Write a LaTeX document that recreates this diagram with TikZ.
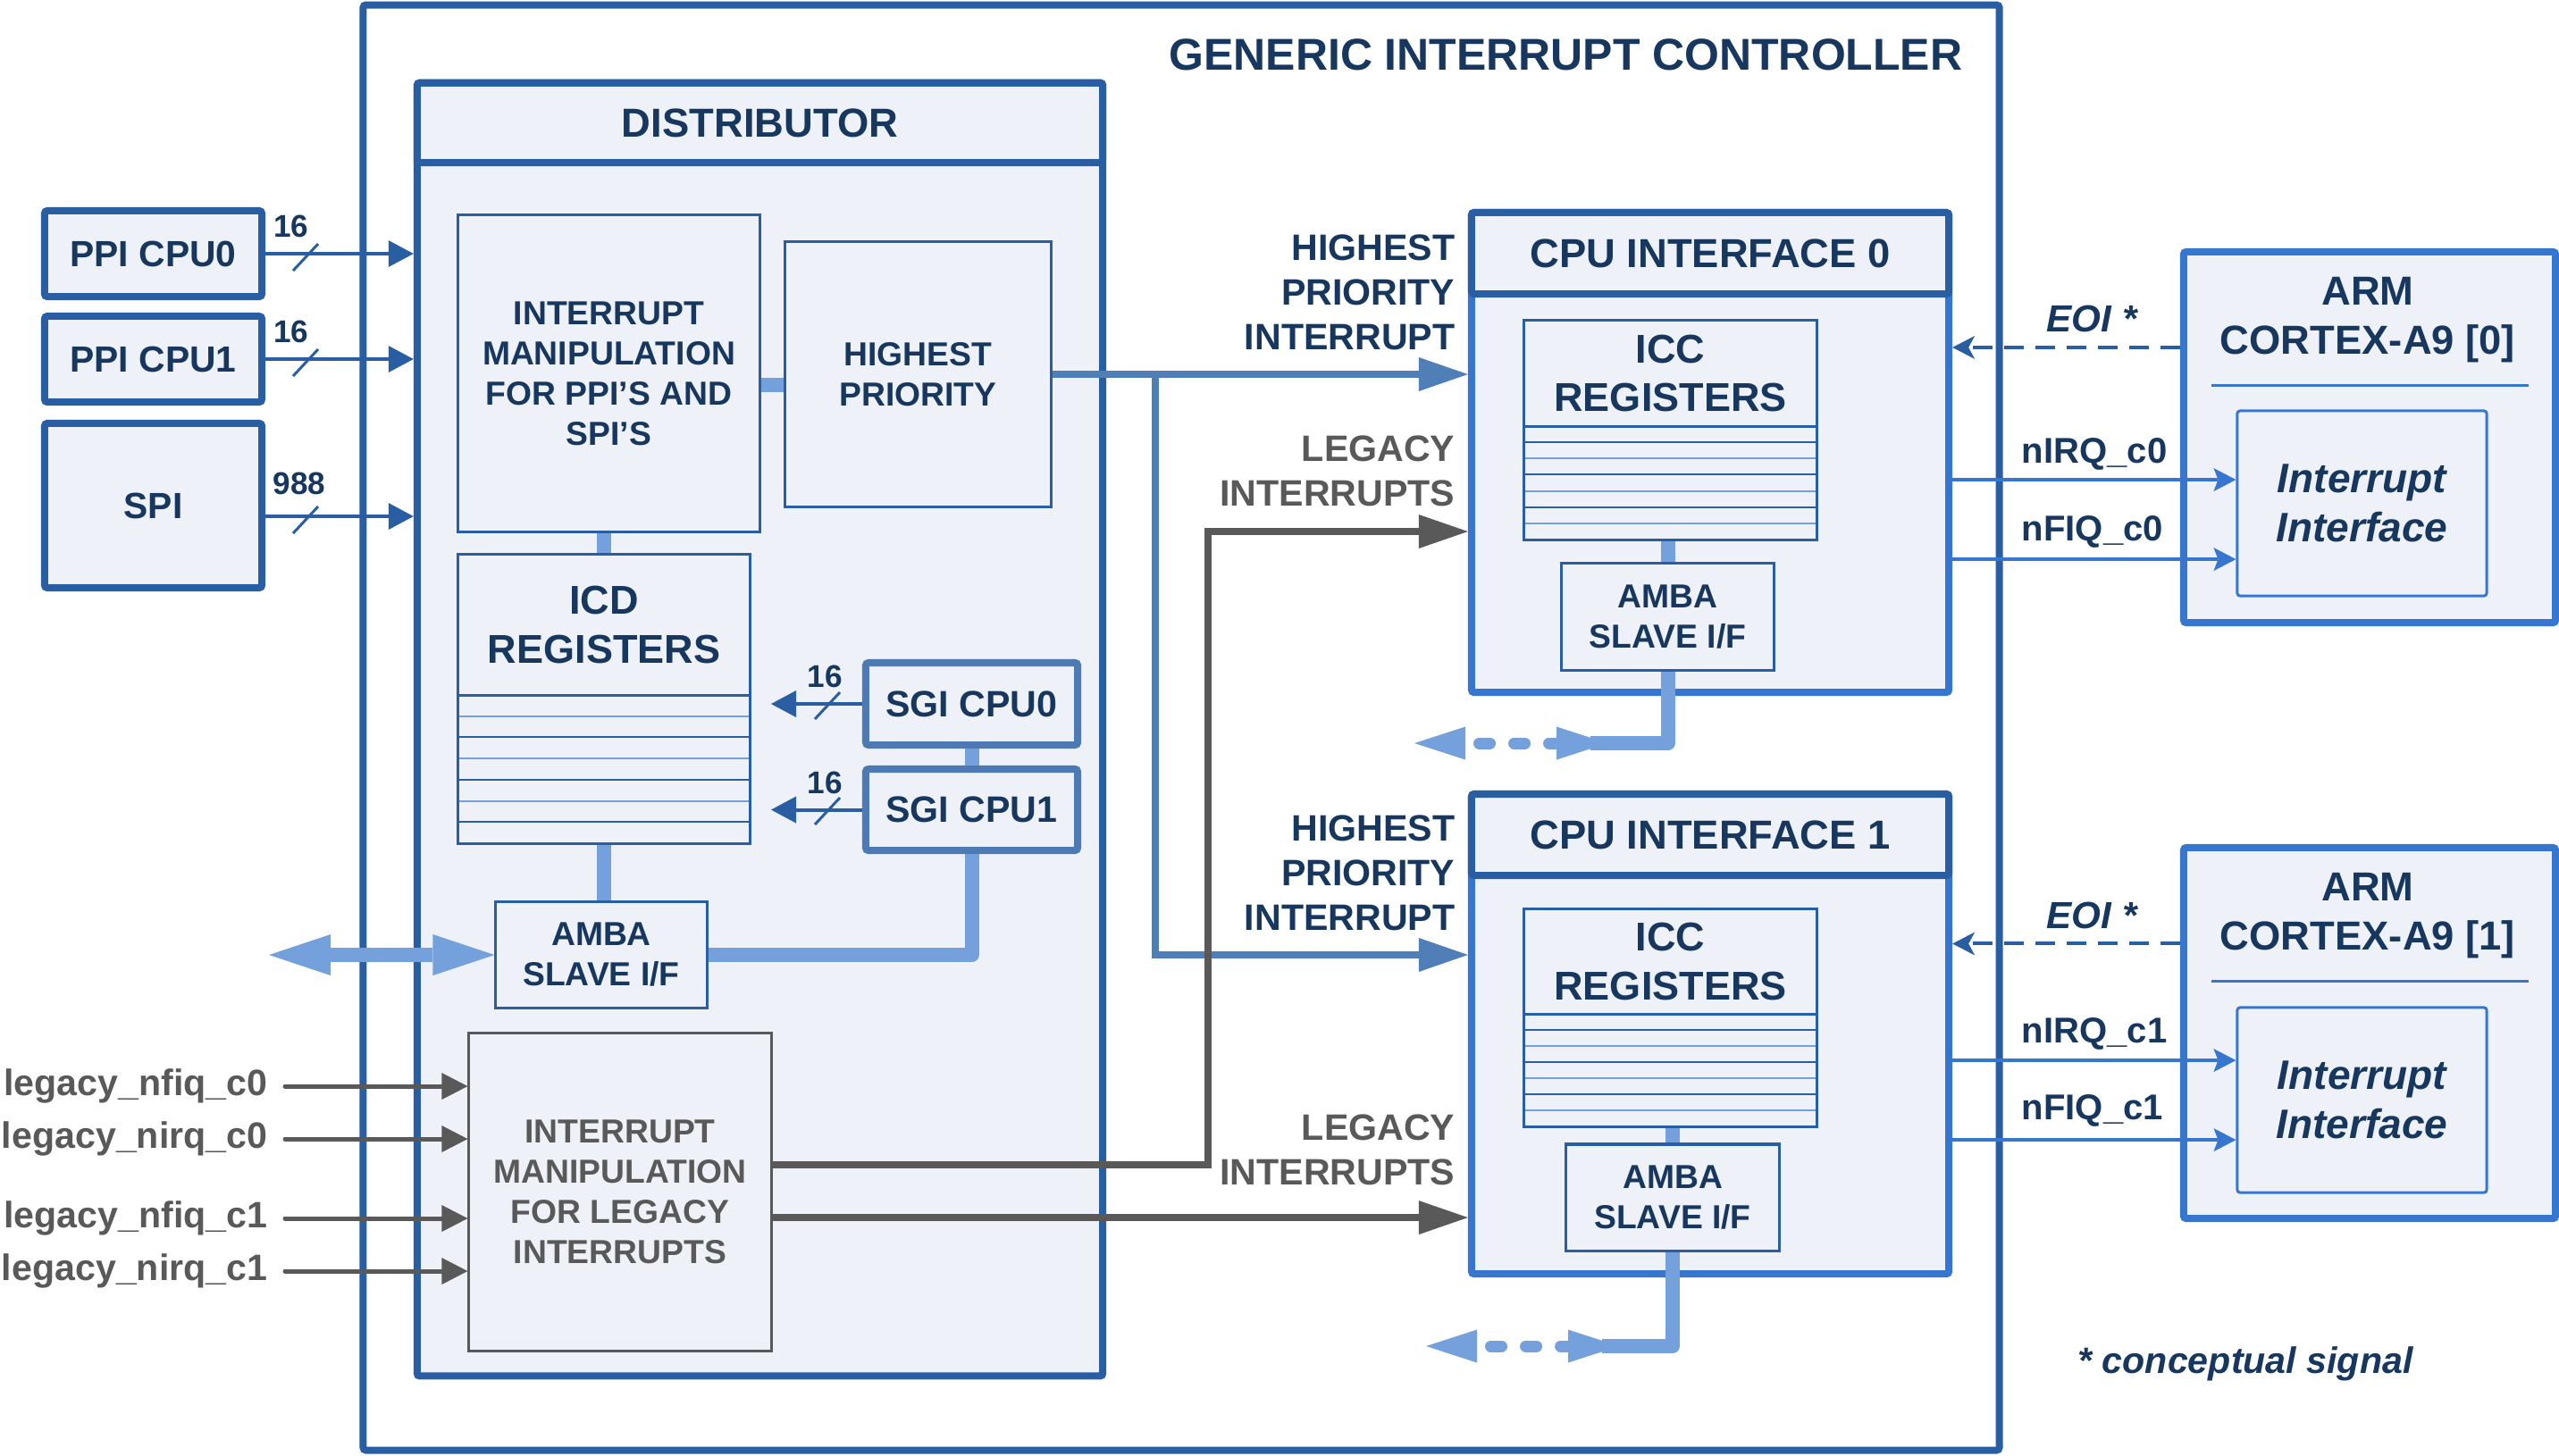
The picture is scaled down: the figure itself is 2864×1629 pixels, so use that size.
\documentclass[tikz,border=0pt]{standalone}
\usepackage{fontspec}
\setmainfont{Liberation Sans}
\usetikzlibrary{arrows.meta}
\definecolor{gicblue}{RGB}{42,94,163}
\definecolor{brblue}{RGB}{55,118,206}
\definecolor{lfill}{RGB}{238,242,248}
\definecolor{connblue}{RGB}{116,160,220}
\definecolor{steel}{RGB}{80,126,182}
\definecolor{sgiblue}{RGB}{77,122,178}
\definecolor{navy}{RGB}{23,55,94}
\definecolor{dgray}{RGB}{89,89,89}
\newcommand{\myfs}[2]{\fontsize{#1}{#2}\selectfont}
\newcommand{\fdist}{\myfs{10.6pt}{12.8pt}\bfseries}
\newcommand{\freg}{\myfs{12.8pt}{15.6pt}\bfseries}
\newcommand{\flbl}{\myfs{11.7pt}{14.2pt}\bfseries}
\begin{document}
\begin{tikzpicture}[x=0.01cm,y=-0.01cm,
  thickbox/.style={draw=gicblue, line width=0.08cm, fill=lfill, rounded corners=0.03cm, inner sep=0pt, text=navy, align=center},
  thinbox/.style={draw=gicblue, line width=0.03cm, fill=lfill, inner sep=0pt, text=navy, align=center},
  sgibox/.style={thickbox, draw=sgiblue, font=\myfs{11.7pt}{14pt}\bfseries},
  cpubody/.style={draw=brblue, line width=0.08cm, fill=lfill, rounded corners=0.03cm, inner sep=0pt},
  armbox/.style={draw=brblue, line width=0.08cm, fill=lfill, rounded corners=0.03cm, inner sep=0pt},
  sigarr/.style={draw=gicblue, line width=0.04cm, -{Triangle[length=0.28cm, width=0.30cm, line width=0pt]}},
  slash/.style={draw=gicblue, line width=0.03cm},
  cnt/.style={text=navy, font=\myfs{10pt}{12pt}\bfseries, inner sep=0pt},
  conn/.style={draw=connblue, line width=0.16cm},
  strip1/.style={draw=gicblue, line width=0.02cm},
  strip2/.style={draw=connblue, line width=0.02cm},
  legarr/.style={draw=dgray, line width=0.05cm, line cap=round, -{Triangle[length=0.29cm, width=0.30cm, line width=0pt]}},
  grayarr/.style={draw=dgray, line width=0.08cm, -{Triangle[length=0.55cm, width=0.38cm, line width=0pt]}},
  hparr/.style={draw=steel, line width=0.08cm, -{Triangle[length=0.55cm, width=0.38cm, line width=0pt]}},
  eoiarr/.style={draw=gicblue, line width=0.04cm, dash pattern=on 0.22cm off 0.13cm, -{Stealth[length=0.25cm, width=0.26cm, inset=0.07cm, line width=0pt]}},
  irqarr/.style={draw=brblue, line width=0.035cm, -{Stealth[length=0.25cm, width=0.26cm, inset=0.05cm, line width=0pt]}},
  leglbl/.style={anchor=east, text=dgray, font=\flbl, inner sep=0pt},
  sidelbl/.style={anchor=east, align=right, font=\flbl, inner sep=0pt},
  sigl/.style={anchor=west, text=navy, font=\myfs{11.4pt}{13.7pt}\bfseries, inner sep=0pt},
  busdots/.style={draw=connblue, line width=0.13cm, line cap=round, dash pattern=on 0.12cm off 0.27cm}
]
\useasboundingbox (0,0) rectangle (2864,1629);

% ---------- GIC frame ----------
\node[draw=gicblue, line width=0.08cm, fill=white, rounded corners=0.03cm, minimum width=18.30cm, minimum height=16.17cm, inner sep=0pt] (gic) at (1322,814.5) {};
\node[anchor=east, text=navy, font=\myfs{14.2pt}{17pt}\bfseries, inner sep=0pt] (gictitle) at (2197,61) {GENERIC INTERRUPT CONTROLLER};

% ---------- Distributor ----------
\node[thickbox, minimum width=7.67cm, minimum height=14.47cm] (dist) at (850.5,816.5) {};
\node[thickbox, minimum width=7.67cm, minimum height=0.89cm, font=\myfs{12.9pt}{15pt}\bfseries] (disthead) at (850.5,137.5) {DISTRIBUTOR};

% ---------- PPI / SPI sources ----------
\node[thickbox, minimum width=2.43cm, minimum height=0.96cm, font=\myfs{11.6pt}{14pt}\bfseries] (ppi0) at (171.5,284) {PPI CPU0};
\node[thickbox, minimum width=2.43cm, minimum height=0.96cm, font=\myfs{11.6pt}{14pt}\bfseries] (ppi1) at (171.5,402) {PPI CPU1};
\node[thickbox, minimum width=2.43cm, minimum height=1.84cm, font=\myfs{11.6pt}{14pt}\bfseries] (spi) at (171.5,566) {SPI};

% ---------- Distributor inner blocks ----------
\node[thinbox, minimum width=3.37cm, minimum height=3.54cm, font=\fdist] (manip) at (681.5,418) {INTERRUPT\\MANIPULATION\\FOR PPI’S AND\\SPI’S};
\node[thinbox, minimum width=2.97cm, minimum height=2.96cm, font=\fdist] (hp) at (1027.5,419) {HIGHEST\\PRIORITY};
\node[thinbox, minimum width=3.26cm, minimum height=3.23cm] (icd) at (676,782.5) {};
\node[thinbox, minimum width=3.26cm, minimum height=1.57cm, font=\freg] (icdh) at (676,699.5) {ICD\\REGISTERS};
\foreach \k in {1,3,5} { \draw[strip2] (514,{778+23.7*\k}) -- (838,{778+23.7*\k}); }
\foreach \k in {2,4,6} { \draw[strip1] (514,{778+23.7*\k}) -- (838,{778+23.7*\k}); }
\node[sgibox, minimum width=2.37cm, minimum height=0.92cm] (sgi0) at (1087.5,788) {SGI CPU0};
\node[sgibox, minimum width=2.37cm, minimum height=0.91cm] (sgi1) at (1087.5,906.5) {SGI CPU1};
\node[thinbox, minimum width=2.36cm, minimum height=1.18cm, font=\fdist] (ambad) at (673,1069) {AMBA\\SLAVE I/F};
\node[thinbox, draw=dgray, text=dgray, minimum width=3.38cm, minimum height=3.55cm, font=\fdist] (leg) at (694,1334.5) {INTERRUPT\\MANIPULATION\\FOR LEGACY\\INTERRUPTS};

% ---------- CPU interface 0 ----------
\node[cpubody, minimum width=5.34cm, minimum height=5.37cm] (cpu0) at (1914,506.5) {};
\node[thickbox, minimum width=5.34cm, minimum height=0.91cm, font=\myfs{12.9pt}{15pt}\bfseries] (cpu0h) at (1914,283.5) {CPU INTERFACE 0};
\node[thinbox, minimum width=3.27cm, minimum height=2.45cm] (icc0) at (1869.5,481.5) {};
\node[thinbox, minimum width=3.27cm, minimum height=1.18cm, font=\freg] (icc0h) at (1869.5,418) {ICC\\REGISTERS};
\foreach \k in {1,3,5} { \draw[strip1] (1707,{477+18.14*\k}) -- (2032,{477+18.14*\k}); }
\foreach \k in {2,4,6} { \draw[strip2] (1707,{477+18.14*\k}) -- (2032,{477+18.14*\k}); }
\node[thinbox, minimum width=2.37cm, minimum height=1.19cm, font=\fdist] (amba0) at (1866.5,690.5) {AMBA\\SLAVE I/F};

% ---------- CPU interface 1 ----------
\node[cpubody, minimum width=5.34cm, minimum height=5.37cm] (cpu1) at (1914,1157.5) {};
\node[thickbox, minimum width=5.34cm, minimum height=0.91cm, font=\myfs{12.9pt}{15pt}\bfseries] (cpu1h) at (1914,934.5) {CPU INTERFACE 1};
\node[thinbox, minimum width=3.27cm, minimum height=2.43cm] (icc1) at (1869.5,1139.5) {};
\node[thinbox, minimum width=3.27cm, minimum height=1.17cm, font=\freg] (icc1h) at (1869.5,1076.5) {ICC\\REGISTERS};
\foreach \k in {1,3,5} { \draw[strip1] (1707,{1135+18*\k}) -- (2032,{1135+18*\k}); }
\foreach \k in {2,4,6} { \draw[strip2] (1707,{1135+18*\k}) -- (2032,{1135+18*\k}); }
\node[thinbox, minimum width=2.38cm, minimum height=1.19cm, font=\fdist] (amba1) at (1872,1340.5) {AMBA\\SLAVE I/F};

% ---------- ARM cores ----------
\node[armbox, minimum width=4.16cm, minimum height=4.15cm] (arm0) at (2652,489.5) {};
\node[text=navy, font=\myfs{12.9pt}{15.6pt}\bfseries, align=center, inner sep=0pt] (arm0t) at (2650,358) {ARM\\CORTEX-A9 [0]};
\draw[brblue, line width=0.03cm] (2475,431) -- (2830,431);
\node[armbox, line width=0.03cm, minimum width=2.79cm, minimum height=2.07cm, text=navy, align=center, font=\myfs{13.1pt}{15.8pt}\bfseries\itshape] (if0) at (2643.5,563.5) {Interrupt\\Interface};

\node[armbox, minimum width=4.16cm, minimum height=4.15cm] (arm1) at (2652,1156.5) {};
\node[text=navy, font=\myfs{12.9pt}{15.6pt}\bfseries, align=center, inner sep=0pt] (arm1t) at (2650,1025) {ARM\\CORTEX-A9 [1]};
\draw[brblue, line width=0.03cm] (2475,1098) -- (2830,1098);
\node[armbox, line width=0.03cm, minimum width=2.79cm, minimum height=2.07cm, text=navy, align=center, font=\myfs{13.1pt}{15.8pt}\bfseries\itshape] (if1) at (2643.5,1231.5) {Interrupt\\Interface};

% ---------- PPI/SPI inputs ----------
\draw[sigarr] (ppi0.east) -- (ppi0.east -| dist.west);
\draw[sigarr] (ppi1.east) -- (ppi1.east -| dist.west);
\draw[sigarr] ([yshift=-0.12cm]spi.east) -- ([yshift=-0.12cm]spi.east -| dist.west);
\draw[slash] (328,303) -- (356,273);
\draw[slash] (328,421) -- (356,391);
\draw[slash] (328,597) -- (356,567);
\node[cnt] (n16a) at (326,253) {16};
\node[cnt] (n16b) at (326,371) {16};
\node[cnt] (n988) at (335,541) {988};

% ---------- distributor internal connections ----------
\draw[conn] ([yshift=-0.13cm]manip.east) -- ([yshift=-0.13cm]manip.east -| hp.west);
\draw[conn] (icd.north) -- (icd.north |- manip.south);
\draw[conn] (sgi0.south) -- (sgi1.north);
\draw[conn] (icd.south) -- (icd.south |- ambad.north);
\draw[conn, line join=round] (sgi1.south) |- (ambad.east);
\coordinate (busl) at (301,1069);
\draw[conn, {Triangle[length=0.69cm, width=0.46cm, line width=0pt]}-{Triangle[length=0.69cm, width=0.46cm, line width=0pt]}] (busl) -- (ambad.west);

\coordinate (sgi0tip) at (863,788);
\coordinate (sgi1tip) at (863,906.5);
\draw[sigarr] (sgi0.west) -- (sgi0tip);
\draw[sigarr] (sgi1.west) -- (sgi1tip);
\draw[slash] (912,805) -- (940,775);
\draw[slash] (912,923) -- (940,893);
\node[cnt] (n16c) at (923,757) {16};
\node[cnt] (n16d) at (923,876) {16};

% ---------- legacy inputs ----------
\node[leglbl] (lnf0) at (300,1216) {legacy\_nfiq\_c0};
\node[leglbl] (lni0) at (300,1275) {legacy\_nirq\_c0};
\node[leglbl] (lnf1) at (300,1364) {legacy\_nfiq\_c1};
\node[leglbl] (lni1) at (300,1423) {legacy\_nirq\_c1};
\draw[legarr] ([xshift=0.19cm]lnf0.east) -- (lnf0.east -| leg.west);
\draw[legarr] ([xshift=0.19cm]lni0.east) -- (lni0.east -| leg.west);
\draw[legarr] ([xshift=0.19cm]lnf1.east) -- (lnf1.east -| leg.west);
\draw[legarr] ([xshift=0.19cm]lni1.east) -- (lni1.east -| leg.west);

% ---------- highest priority outputs ----------
\draw[hparr] (hp.east) -- (hp.east -| cpu0.west);
\coordinate (br) at (1293,419);
\draw[hparr] (br) |- ([yshift=0.885cm]cpu1.west);

% ---------- legacy outputs ----------
\coordinate (lg0) at (1352,595);
\draw[grayarr] ([yshift=0.305cm]leg.east) -| (lg0) -- (lg0 -| cpu0.west);
\draw[grayarr] ([yshift=-0.285cm]leg.east) -- ([yshift=-0.285cm]leg.east -| cpu1.west);

% ---------- side labels ----------
\node[sidelbl, text=navy] (hpl0) at (1629,327) {HIGHEST\\PRIORITY\\INTERRUPT};
\node[sidelbl, text=dgray] (lgl0) at (1629,527.5) {LEGACY\\INTERRUPTS};
\node[sidelbl, text=navy] (hpl1) at (1629,977) {HIGHEST\\PRIORITY\\INTERRUPT};
\node[sidelbl, text=dgray] (lgl1) at (1629,1287.5) {LEGACY\\INTERRUPTS};

% ---------- CPU interface internal + bus stubs ----------
\draw[conn] (amba0.north) -- (amba0.north |- icc0.south);
\coordinate (bus0) at (1780,832);
\draw[conn, line join=round] (amba0.south) |- (bus0);
\fill[connblue] (1583,832) -- (1640,813.5) -- (1640,850.5) -- cycle;
\fill[connblue] (1799,832) -- (1742,813.5) -- (1742,850.5) -- cycle;
\draw[busdots] (1655.5,832) -- (1745,832);

\draw[conn] (amba1.north) -- (amba1.north |- icc1.south);
\coordinate (bus1) at (1793,1507);
\draw[conn, line join=round] (amba1.south) |- (bus1);
\fill[connblue] (1596,1507) -- (1653,1488.5) -- (1653,1525.5) -- cycle;
\fill[connblue] (1812,1507) -- (1755,1488.5) -- (1755,1525.5) -- cycle;
\draw[busdots] (1668.5,1507) -- (1758,1507);

% ---------- CPU <-> core signals ----------
\draw[eoiarr] ([yshift=1.005cm]arm0.west) -- ([yshift=1.005cm]arm0.west -| cpu0.east);
\draw[eoiarr] ([yshift=1.0cm]arm1.west) -- ([yshift=1.0cm]arm1.west -| cpu1.east);
\draw[irqarr] ([yshift=-0.305cm]cpu0.east) -- ([yshift=-0.305cm]cpu0.east -| if0.west);
\draw[irqarr] ([yshift=-1.195cm]cpu0.east) -- ([yshift=-1.195cm]cpu0.east -| if0.west);
\draw[irqarr] ([yshift=-0.295cm]cpu1.east) -- ([yshift=-0.295cm]cpu1.east -| if1.west);
\draw[irqarr] ([yshift=-1.185cm]cpu1.east) -- ([yshift=-1.185cm]cpu1.east -| if1.west);
\node[text=navy, font=\myfs{12pt}{14pt}\bfseries\itshape, inner sep=0pt] (eoi0) at (2341,357) {EOI *};
\node[text=navy, font=\myfs{12pt}{14pt}\bfseries\itshape, inner sep=0pt] (eoi1) at (2341,1025) {EOI *};
\node[sigl] (irq0) at (2262,508) {nIRQ\_c0};
\node[sigl] (fiq0) at (2262,595) {nFIQ\_c0};
\node[sigl] (irq1) at (2262,1157) {nIRQ\_c1};
\node[sigl] (fiq1) at (2262,1243) {nFIQ\_c1};

\node[text=navy, font=\myfs{11.7pt}{14pt}\bfseries\itshape, inner sep=0pt] (note) at (2513,1527) {* conceptual signal};
\end{tikzpicture}
\end{document}
